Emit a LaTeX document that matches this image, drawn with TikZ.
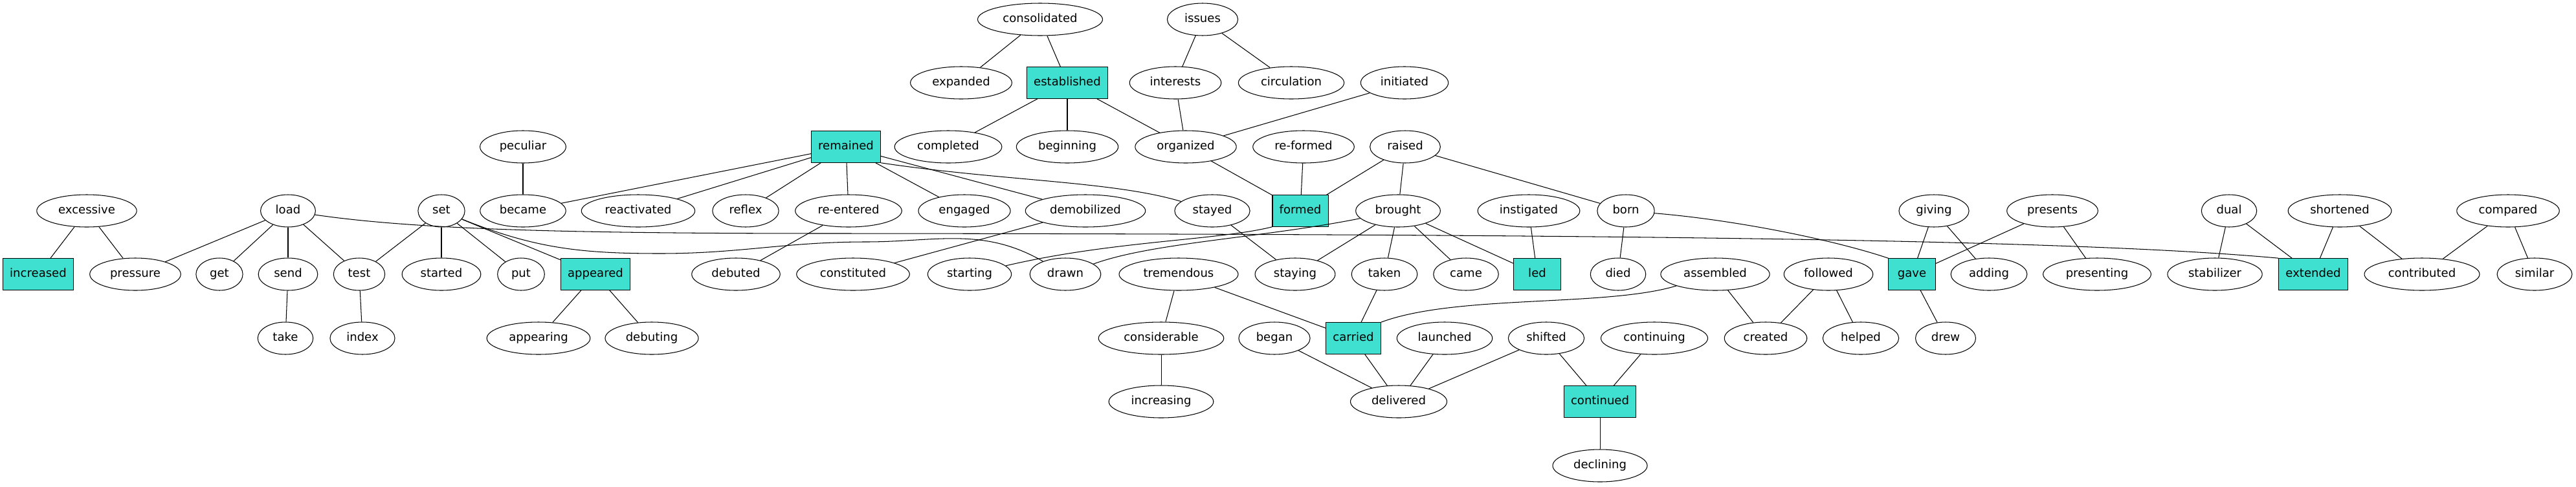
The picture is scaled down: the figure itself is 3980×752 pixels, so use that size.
\documentclass[tikz,border=0pt]{standalone}
\usepackage{fontspec}
\setmainfont{DejaVu Sans}
\usetikzlibrary{shapes.geometric}
\definecolor{turq}{RGB}{64,224,208}
\begin{document}
\begin{tikzpicture}[x=0.72pt,y=-0.72pt,
  every node/.style={font=\fontsize{13}{15}\selectfont, text height=9.5pt, text depth=2.5pt},
  ell/.style={draw, ellipse, line width=0.75pt, inner xsep=7.7pt, inner ysep=2pt, minimum height=36pt, minimum width=52pt},
  bx/.style={draw, rectangle, fill=turq, line width=0.75pt, inner xsep=7.7pt, minimum height=35pt, minimum width=52pt},
  lnk/.style={line width=0.75pt}]
\useasboundingbox (0,0) rectangle (3980,752);
% row 1
\node[ell] (consolidated) at (1607,30) {consolidated};
\node[ell] (issues) at (1858,30) {issues};
% row 2
\node[ell] (expanded) at (1485,128) {expanded};
\node[bx]  (established) at (1649,128) {established};
\node[ell] (interests) at (1816,128) {interests};
\node[ell] (circulation) at (1995,128) {circulation};
\node[ell] (initiated) at (2170,128) {initiated};
% row 3
\node[ell] (peculiar) at (808,227) {peculiar};
\node[bx]  (remained) at (1307,227) {remained};
\node[ell] (completed) at (1465,227) {completed};
\node[ell] (beginning) at (1649,227) {beginning};
\node[ell] (organized) at (1832,227) {organized};
\node[ell] (reformed) at (2014,227) {re-formed};
\node[ell] (raised) at (2171,227) {raised};
% row 4
\node[ell] (excessive) at (134,326) {excessive};
\node[ell] (load) at (445,326) {load};
\node[ell] (set) at (682,326) {set};
\node[ell] (became) at (808,326) {became};
\node[ell] (reactivated) at (986,326) {reactivated};
\node[ell] (reflex) at (1152,326) {reflex};
\node[ell] (reentered) at (1311,326) {re-entered};
\node[ell] (engaged) at (1490,326) {engaged};
\node[ell] (demobilized) at (1677,326) {demobilized};
\node[ell] (stayed) at (1873,326) {stayed};
\node[bx]  (formed) at (2009,326) {formed};
\node[ell] (brought) at (2160,326) {brought};
\node[ell] (instigated) at (2362,326) {instigated};
\node[ell] (born) at (2512,326) {born};
\node[ell] (giving) at (2988,326) {giving};
\node[ell] (presents) at (3171,326) {presents};
\node[ell] (dual) at (3444,326) {dual};
\node[ell] (shortened) at (3615,326) {shortened};
\node[ell] (compared) at (3875,326) {compared};
% row 5
\node[bx]  (increased) at (59,424) {increased};
\node[ell] (pressure) at (209,424) {pressure};
\node[ell] (get) at (339,424) {get};
\node[ell] (send) at (445,424) {send};
\node[ell] (test) at (555,424) {test};
\node[ell] (started) at (682,424) {started};
\node[ell] (put) at (805,424) {put};
\node[bx]  (appeared) at (920,424) {appeared};
\node[ell] (debuted) at (1137,424) {debuted};
\node[ell] (constituted) at (1318,424) {constituted};
\node[ell] (starting) at (1498,424) {starting};
\node[ell] (drawn) at (1646,424) {drawn};
\node[ell] (tremendous) at (1821,424) {tremendous};
\node[ell] (staying) at (2001,424) {staying};
\node[ell] (taken) at (2139,424) {taken};
\node[ell] (came) at (2265,424) {came};
\node[bx]  (led) at (2375,424) {led};
\node[ell] (died) at (2500,424) {died};
\node[ell] (assembled) at (2650,424) {assembled};
\node[ell] (followed) at (2825,424) {followed};
\node[bx]  (gave) at (2954,424) {gave};
\node[ell] (adding) at (3073,424) {adding};
\node[ell] (presenting) at (3240,424) {presenting};
\node[ell] (stabilizer) at (3422,424) {stabilizer};
\node[bx]  (extended) at (3574,424) {extended};
\node[ell] (contributed) at (3742,424) {contributed};
\node[ell] (similar) at (3916,424) {similar};
% row 6
\node[ell] (take) at (441,523) {take};
\node[ell] (index) at (560,523) {index};
\node[ell] (appearing) at (832,523) {appearing};
\node[ell] (debuting) at (1007,523) {debuting};
\node[ell] (considerable) at (1794,523) {considerable};
\node[ell] (began) at (1969,523) {began};
\node[bx]  (carried) at (2091,523) {carried};
\node[ell] (launched) at (2232,523) {launched};
\node[ell] (shifted) at (2389,523) {shifted};
\node[ell] (continuing) at (2556,523) {continuing};
\node[ell] (created) at (2728,523) {created};
\node[ell] (helped) at (2875,523) {helped};
\node[ell] (drew) at (3006,523) {drew};
% row 7
\node[ell] (increasing) at (1794,621) {increasing};
\node[ell] (delivered) at (2161,621) {delivered};
\node[bx]  (continued) at (2472,621) {continued};
% row 8
\node[ell] (declining) at (2472,720) {declining};

% straight edges
\foreach \a/\b in {consolidated/expanded, consolidated/established, issues/interests, issues/circulation,
  established/completed, established/beginning, established/organized, interests/organized, initiated/organized,
  organized/formed, reformed/formed, raised/formed, raised/brought, raised/born,
  peculiar/became,
  remained/became, remained/reactivated, remained/reflex, remained/reentered, remained/engaged, remained/demobilized,
  excessive/increased, excessive/pressure,
  load/pressure, load/get, load/send, load/test,
  set/test, set/started, set/put, set/appeared,
  reentered/debuted, demobilized/constituted, stayed/staying,
  brought/staying, brought/taken, brought/came, brought/led,
  instigated/led, born/died,
  giving/gave, giving/adding, presents/gave, presents/presenting,
  dual/stabilizer, dual/extended, shortened/extended, shortened/contributed, compared/contributed, compared/similar,
  send/take, test/index, appeared/appearing, appeared/debuting,
  tremendous/considerable, tremendous/carried, considerable/increasing, taken/carried,
  assembled/created, followed/created, followed/helped, gave/drew,
  carried/delivered, began/delivered, launched/delivered, shifted/delivered,
  shifted/continued, continuing/continued, continued/declining}
  \draw[lnk] (\a) -- (\b);

% curved edges
\draw[lnk] (remained.south east) .. controls (1550,280) and (1720,280) .. (stayed);
\draw[lnk] (load) .. controls (650,356) and (900,361) .. (1300,361) .. controls (2500,362) and (3200,370) .. (extended.north west);
\draw[lnk] (set) to[out=-22,in=180] (1020,392) to[out=0,in=180] (1338,374) to[out=0,in=150] (drawn);
\draw[lnk] (formed.south west) .. controls (1880,372) and (1720,372) .. (starting);
\draw[lnk] (brought) .. controls (1950,368) and (1780,375) .. (drawn);
\draw[lnk] (born) .. controls (2680,340) and (2830,370) .. (gave.north west);
\draw[lnk] (assembled) .. controls (2480,475) and (2250,455) .. (carried.north east);
\end{tikzpicture}
\end{document}
